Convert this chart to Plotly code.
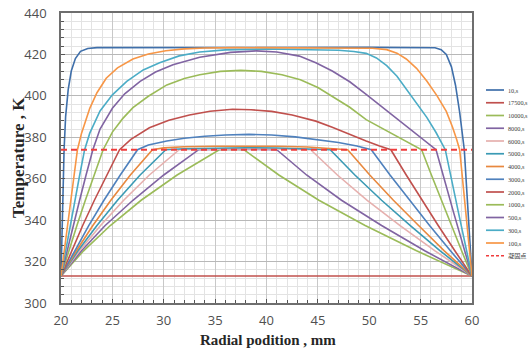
import plotly.graph_objects as go

# ---------------- data ----------------
names = ["10,s", "17500,s", "10000,s", "8000,s", "6000,s", "5000,s", "4000,s",
         "3000,s", "2000,s", "1000,s", "500,s", "300,s", "100,s"]
colors = ["#3F6FAA", "#C0504D", "#9BBB59", "#8064A2", "#E6B0AE", "#3A9AB4", "#E8883E",
          "#4F81BD", "#C0504D", "#9BBB59", "#8064A2", "#4BACC6", "#F79646"]

x_10 = [20, 20.12, 20.3, 20.45, 20.7, 21.0, 21.4, 21.9, 22.6, 23.5, 30, 40, 50, 56.4,
        57.0, 57.5, 58.0, 58.4, 58.8, 59.25, 59.6, 60]
t_10 = [313, 345, 374, 390, 403, 412, 418, 421.5, 422.9, 423.3, 423.4, 423.4, 423.4, 423.2,
        422.3, 420, 414, 405, 392, 374, 346, 313]

x_17500 = [20, 60]
t_17500 = [313, 313]

x_10000 = [20, 22.2, 24.8, 27.8, 31.3, 35.4, 36.6, 37.8, 41.2, 45.1, 49.6, 54.6, 60]
t_10000 = [313, 325.2, 337.4, 349.6, 361.8, 374, 374.2, 374, 361.8, 349.6, 337.4, 325.2, 313]

x_8000 = [20, 22.0, 24.3, 27.0, 30.0, 33.4, 37.2, 41.0, 43.9, 47.3, 51.2, 55.4, 60]
t_8000 = [313, 325.2, 337.4, 349.6, 361.8, 374, 374.25, 374, 361.8, 349.6, 337.4, 325.2, 313]

x_6000 = [20, 21.8, 23.85, 26.1, 28.6, 31.5, 34.5, 38, 41, 44.3, 46.9, 49.8, 53.0, 56.4, 60]
t_6000 = [313, 325.2, 337.4, 349.6, 361.8, 374, 374.3, 374.45, 374.35, 374,
          361.8, 349.6, 337.4, 325.2, 313]

x_5000 = [20, 21.65, 23.5, 25.5, 27.7, 30.2, 32, 35, 38, 41, 44, 46.2,
          48.6, 51.2, 54.0, 56.9, 60]
t_5000 = [313, 325.2, 337.4, 349.6, 361.8, 374, 374.5, 374.85, 374.95, 374.85, 374.5, 374,
          361.8, 349.6, 337.4, 325.2, 313]

x_4000 = [20, 21.5, 23.1, 24.85, 26.75, 28.9, 30, 32, 35, 38, 41, 44, 46, 47.9,
          50.05, 52.35, 54.8, 57.3, 60]
t_4000 = [313, 325.2, 337.4, 349.6, 361.8, 374, 374.9, 375.4, 375.7, 375.8, 375.7, 375.3,
          374.8, 374, 361.8, 349.6, 337.4, 325.2, 313]

x_3000 = [20, 21.31, 22.70, 24.18, 25.77, 27.45, 28.5, 30.3, 32, 34, 36, 38.3, 40.5, 42.8,
          44.9, 47, 48.8, 50.2, 52.02, 53.91, 55.87, 57.90, 60]
t_3000 = [313, 325.2, 337.4, 349.6, 361.8, 374, 376.3, 378.2, 379.5, 380.5, 381.1, 381.4,
          381.1, 380.2, 379, 377.5, 375.8, 374, 361.8, 349.6, 337.4, 325.2, 313]

x_2000 = [20, 21.03, 22.11, 23.25, 24.44, 25.7, 26.8, 28.6, 30.5, 32.5, 34.5, 36.7, 38.5,
          40.5, 42.5, 44.8, 46.4, 48, 49.7, 51, 52.1, 53.6, 55.13, 56.71, 58.33, 60]
t_2000 = [313, 325.2, 337.4, 349.6, 361.8, 374, 379, 384.6, 388.2, 390.8, 392.6, 393.5, 393.3,
          392.5, 390.8, 387.8, 384.8, 381.5, 378.2, 375.8, 374, 361.8, 349.6, 337.4, 325.2, 313]

x_1000 = [20, 20.76, 21.55, 22.37, 23.22, 24.1, 25, 26, 27, 28.5, 30.3, 32, 33.5, 35.5, 37.5,
          39.5, 41.5, 43.3, 45, 46.5, 48.1, 49.7, 51.4, 53.3, 55.1,
          56.05, 57.01, 57.99, 58.99, 60]
t_1000 = [313, 325.2, 337.4, 349.6, 361.8, 374, 382.5, 389, 394.3, 399.8, 405.3, 408.4, 410.2,
          411.8, 412.3, 411.8, 410.2, 407.8, 404, 399.5, 394.5, 388.5, 384, 379, 374,
          361.8, 349.6, 337.4, 325.2, 313]

x_500 = [20, 20.58, 21.19, 21.81, 22.44, 23.1, 23.8, 25, 26.2, 27.7, 29.2, 30.9, 33.5, 36.5,
         39, 41, 43.2, 44.8, 46.4, 48.1, 49.7, 51.3, 53, 54.8, 56.5, 58.22, 60]
t_500 = [313, 325.2, 337.4, 349.6, 361.8, 374, 384, 394, 401, 407, 411.5, 415, 418.6, 421,
         421.7, 421.2, 419.2, 416, 412, 406.8, 400.7, 394.5, 387.8, 381, 374, 343.5, 313]

x_300 = [20, 20.44, 20.89, 21.35, 21.82, 22.3, 22.8, 23.8, 25, 26.4, 28, 29.6, 31.5, 33.5, 36,
         40, 45, 47, 48.5, 49.7, 50.7, 51.7, 52.7, 53.6, 54.6, 55.6, 56.5, 57.4, 58.69, 60]
t_300 = [313, 325.2, 337.4, 349.6, 361.8, 374, 382, 392.7, 400.5, 407, 412.5, 416, 419.3,
         421.2, 422.2, 422.6, 422.4, 422.0, 421.4, 420.5, 418.3, 414.6, 409.5, 403.5, 396.5,
         389.6, 382.3, 374, 343.5, 313]

x_100 = [20, 20.8, 21.6, 22.0, 22.8, 23.5, 24.4, 25.5, 27.0, 28.5, 30.2, 32, 34, 37, 48, 50.3,
         51.7, 52.7, 53.6, 54.6, 55.6, 56.6, 57.5, 58.1, 58.5, 58.8, 59.4, 60]
t_100 = [313, 344, 374, 382, 394, 401.5, 408.5, 413.5, 417.8, 420.2, 421.8, 422.7, 423.1, 423.3,
         423.3, 423.0, 422.3, 420.6, 417.8, 413.3, 407.2, 400, 392.5, 385, 379, 374, 343.5, 313]

freeze_name = "凝固点"
freeze_x = [20, 60]
freeze_t = [374, 374]

series_x = [x_10, x_17500, x_10000, x_8000, x_6000, x_5000, x_4000,
            x_3000, x_2000, x_1000, x_500, x_300, x_100]
series_t = [t_10, t_17500, t_10000, t_8000, t_6000, t_5000, t_4000,
            t_3000, t_2000, t_1000, t_500, t_300, t_100]

# ---------------- figure ----------------
fig = go.Figure()
for nm, col, xs, ts in zip(names, colors, series_x, series_t):
    fig.add_trace(go.Scatter(x=xs, y=ts, mode="lines", name=nm,
                             line=dict(color=col, width=1.6), showlegend=False))
fig.add_trace(go.Scatter(x=freeze_x, y=freeze_t, mode="lines", name=freeze_name,
                         line=dict(color="#F03C3C", width=2, dash="6px,4px"),
                         showlegend=False))

# compact legend on the right (drawn as paper shapes + text)
L, R, T, B = 61, 56, 13, 46
W, H = 528, 349
pw, ph = W - L - R, H - T - B
leg_names = names + [freeze_name]
leg_colors = colors + ["#F03C3C"]
shapes = []
annots = []
for i, (nm, col) in enumerate(zip(leg_names, leg_colors)):
    py = 90 + i * 12.75
    yp = (H - B - py) / ph
    x0 = (486 - L) / pw
    x1 = (504 - L) / pw
    shapes.append(dict(type="line", xref="paper", yref="paper", x0=x0, x1=x1, y0=yp, y1=yp,
                       line=dict(color=col, width=1.7,
                                 dash="3px,2px" if nm == freeze_name else "solid")))
    annots.append(dict(xref="paper", yref="paper", x=(505.5 - L) / pw, y=yp, text=nm,
                       showarrow=False, xanchor="left", yanchor="middle",
                       font=dict(family="Liberation Serif, Noto Sans CJK SC", size=6.2,
                                 color="#404040")))

# axis titles placed as text
annots.append(dict(xref="paper", yref="paper", x=(18 - L) / pw, y=0.5,
                   text="<b>Temperature , K</b>", textangle=-90, showarrow=False,
                   xanchor="center", yanchor="middle",
                   font=dict(family="Liberation Serif", size=17, color="#262626")))
annots.append(dict(xref="paper", yref="paper", x=(268 - L) / pw, y=(H - B - 340) / ph,
                   text="<b>Radial podition , mm</b>", showarrow=False,
                   xanchor="center", yanchor="middle",
                   font=dict(family="Liberation Serif", size=15, color="#262626")))

fig.update_layout(
    width=W, height=H, autosize=False,
    margin=dict(l=L, r=R, t=T, b=B, pad=0, autoexpand=False),
    paper_bgcolor="white", plot_bgcolor="white",
    shapes=shapes, annotations=annots,
    showlegend=False,
)
fig.update_xaxes(
    range=[20, 60], tick0=20, dtick=5, showgrid=True, gridcolor="#C8C8C8", gridwidth=1,
    minor=dict(dtick=1, showgrid=True, gridcolor="#E3E3E3", gridwidth=1,
               ticks="inside", ticklen=3, tickcolor="#555555"),
    ticks="inside", ticklen=4, tickcolor="#555555", automargin=False,
    showline=True, linecolor="#6E6E6E", linewidth=1.5, mirror=True, zeroline=False,
    tickfont=dict(family="Open Sans", size=13, color="#505050"),
    ticklabelstandoff=5,
)
fig.update_yaxes(
    range=[300, 440], tick0=300, dtick=20, showgrid=True, gridcolor="#B8B8B8", gridwidth=1.3,
    minor=dict(dtick=4, showgrid=True, gridcolor="#E3E3E3", gridwidth=1,
               ticks="inside", ticklen=3, tickcolor="#555555"),
    ticks="inside", ticklen=4, tickcolor="#555555", automargin=False,
    showline=True, linecolor="#6E6E6E", linewidth=1.5, mirror=True, zeroline=False,
    tickfont=dict(family="Open Sans", size=13, color="#505050"),
    ticklabelstandoff=10,
)

fig.write_html("out.html")
